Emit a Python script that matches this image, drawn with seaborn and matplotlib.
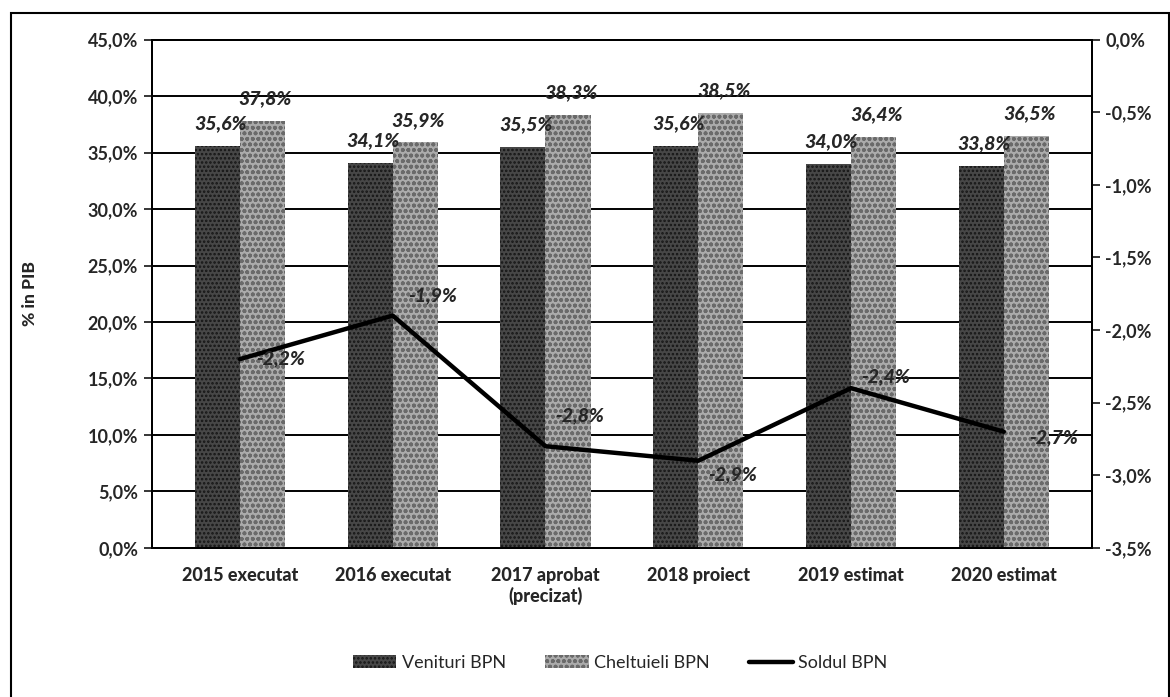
import numpy as np
import pandas as pd
import matplotlib.pyplot as plt
import matplotlib.patches as mpatches
from matplotlib.lines import Line2D
from matplotlib.ticker import FuncFormatter
import seaborn as sns

categories = ["2015 executat", "2016 executat", "2017 aprobat\n(precizat)",
              "2018 proiect", "2019 estimat", "2020 estimat"]
venituri = [35.6, 34.1, 35.5, 35.6, 34.0, 33.8]
cheltuieli = [37.8, 35.9, 38.3, 38.5, 36.4, 36.5]
soldul = [-2.2, -1.9, -2.8, -2.9, -2.4, -2.7]
series_names = ["Venituri BPN", "Cheltuieli BPN"]
line_name = "Soldul BPN"

sns.set_style("white")
plt.rcParams["font.family"] = ["Lato", "DejaVu Sans"]
plt.rcParams["hatch.linewidth"] = 1.2


def pct(v):
    s = f"{v:.1f}%".replace(".", ",")
    return "0,0%" if s == "-0,0%" else s


df = pd.DataFrame({
    "cat": categories * 2,
    "val": venituri + cheltuieli,
    "serie": [series_names[0]] * 6 + [series_names[1]] * 6,
})

fig = plt.figure(figsize=(11.7, 6.97), dpi=100)
ax = fig.add_axes([0.130, 0.214, 0.803, 0.729])

face = {series_names[0]: "#474747", series_names[1]: "#ababab"}
hatch_col = {series_names[0]: "#151515", series_names[1]: "#6a6a6a"}
sns.barplot(data=df, x="cat", y="val", hue="serie", order=categories,
            hue_order=series_names, palette=face, width=0.59, ax=ax,
            legend=False, zorder=3)

# texture on bars, like the scanned fill patterns
for i, cont in enumerate(ax.containers):
    name = series_names[i]
    for bar in cont:
        bar.set_hatch("...." if i == 0 else "ooo")
        bar.set_edgecolor(hatch_col[name])
        bar.set_linewidth(0)

ax.set_ylim(0, 45)
ax.set_yticks(np.arange(0, 46, 5))
ax.yaxis.set_major_formatter(FuncFormatter(lambda v, p: pct(v)))
ax.grid(axis="y", color="black", linewidth=1.4, zorder=0)
ax.set_axisbelow(True)
ax.set_xlabel("")
ax.set_ylabel("% in PIB", fontsize=12.5, fontweight="black", labelpad=36)
ax.tick_params(axis="y", labelsize=13, direction="out", length=6, width=1.3, pad=4)
ax.tick_params(axis="x", labelsize=13, length=0, pad=14)
for lab in ax.get_xticklabels():
    lab.set_fontweight("black")
for lab in ax.get_yticklabels():
    lab.set_fontweight("bold")
for sp in ax.spines.values():
    sp.set_color("black")
    sp.set_linewidth(1.4)

# value labels on bars
for i, cont in enumerate(ax.containers):
    vals = venituri if i == 0 else cheltuieli
    for bar, v in zip(cont, vals):
        ax.annotate(pct(v), (bar.get_x() + bar.get_width() / 2, bar.get_height()),
                    xytext=(2, 16), textcoords="offset points",
                    ha="center", va="center", fontsize=14,
                    fontweight="black", fontstyle="italic", zorder=5)

# secondary axis: balance
ax2 = ax.twinx()
xpos = np.arange(len(categories))
sns.lineplot(x=xpos, y=soldul, color="black", linewidth=3.2, ax=ax2, zorder=4)
ax2.set_ylim(-3.5, 0)
ax2.set_yticks(np.arange(-3.5, 0.01, 0.5))
ax2.yaxis.set_major_formatter(FuncFormatter(lambda v, p: pct(v)))
ax2.tick_params(axis="y", labelsize=13, direction="out", length=6, width=1.3, pad=4)
for lab in ax2.get_yticklabels():
    lab.set_fontweight("bold")
ax2.set_xlim(ax.get_xlim())
for sp in ax2.spines.values():
    sp.set_color("black")
    sp.set_linewidth(1.4)

dy = [0, 14, 22, -10, 8, -4]
dx = [12, 11, 7, 7, 7, 18]
for x, v, ox, oy in zip(xpos, soldul, dx, dy):
    ax2.annotate(pct(v), (x, v), xytext=(ox, oy),
                 textcoords="offset points", ha="left", va="center",
                 fontsize=14, fontweight="black", fontstyle="italic", zorder=6)

handles = [
    mpatches.Patch(facecolor=face[series_names[0]], edgecolor=hatch_col[series_names[0]],
                   hatch="....", linewidth=0, label=series_names[0]),
    mpatches.Patch(facecolor=face[series_names[1]], edgecolor=hatch_col[series_names[1]],
                   hatch="ooo", linewidth=0, label=series_names[1]),
    Line2D([0], [0], color="black", linewidth=3.2, label=line_name),
]
fig.legend(handles=handles, loc="center", bbox_to_anchor=(0.53, 0.049), ncol=3,
           frameon=False, fontsize=13, handlelength=2.4, handletextpad=0.3,
           columnspacing=2.2)

# outer frame of the chart
fig.patches.append(mpatches.Rectangle((0.009, -0.02), 0.99, 1.001,
                                      transform=fig.transFigure, fill=False,
                                      edgecolor="black", linewidth=1.5))

fig.savefig("out.png", dpi=100)
